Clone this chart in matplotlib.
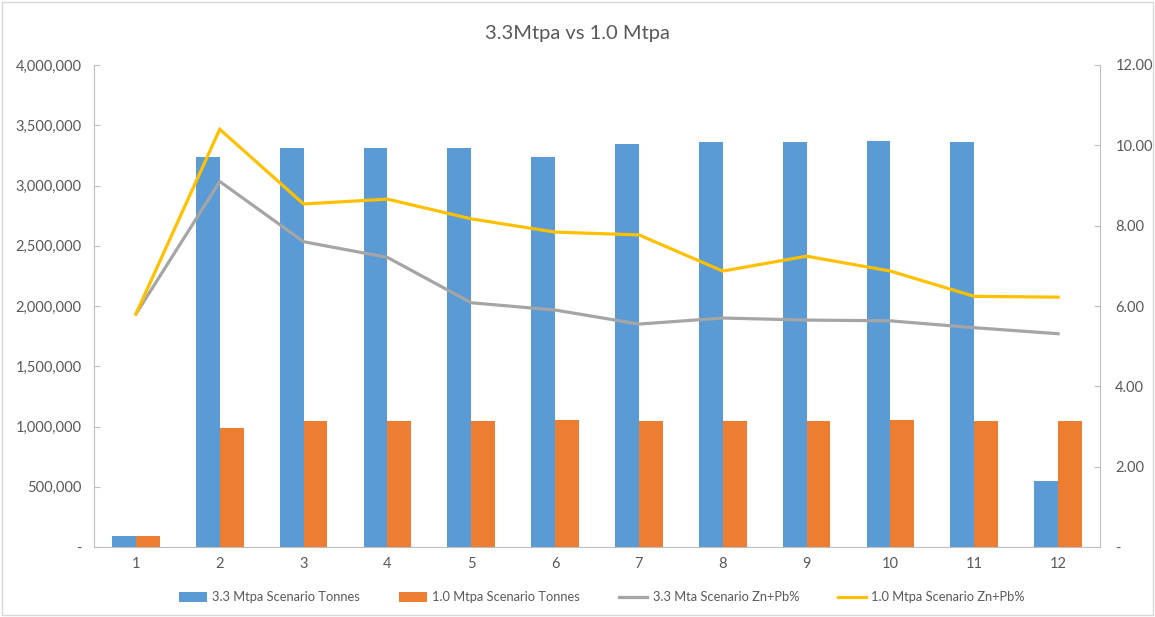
import matplotlib.pyplot as plt
import matplotlib.ticker as mticker
import numpy as np
from matplotlib.patches import Rectangle

plt.rcParams['font.family'] = ['Lato', 'DejaVu Sans']

periods = list(range(1, 13))
tonnes_33 = [95000, 3240000, 3310000, 3310000, 3310000, 3240000,
             3345000, 3360000, 3360000, 3370000, 3360000, 545000]
tonnes_10 = [95000, 987000, 1045000, 1045000, 1045000, 1052000,
             1045000, 1045000, 1045000, 1052000, 1045000, 1045000]
grade_33 = [5.80, 9.10, 7.60, 7.21, 6.08, 5.90, 5.55, 5.70, 5.65, 5.63, 5.46, 5.31]
grade_10 = [5.80, 10.40, 8.54, 8.66, 8.17, 7.84, 7.77, 6.87, 7.24, 6.87, 6.24, 6.22]

c_blue = '#5b9bd5'
c_orange = '#ed7d31'
c_grey = '#a5a5a5'
c_yellow = '#ffc000'
txt = '#595959'
axis_c = '#bfbfbf'

fig = plt.figure(figsize=(11.55, 6.17), dpi=100)
fig.patches.append(Rectangle((0.002, 0.003), 0.996, 0.994, transform=fig.transFigure,
                             fill=False, edgecolor='#d9d9d9', linewidth=1))
ax = fig.add_axes([94 / 1155, 70 / 617, 1006 / 1155, 482 / 617])
ax2 = ax.twinx()

x = np.array(periods)
w = 0.285
ax.bar(x - w / 2, tonnes_33, w, color=c_blue, label='3.3 Mtpa Scenario Tonnes', zorder=2)
ax.bar(x + w / 2, tonnes_10, w, color=c_orange, label='1.0 Mtpa Scenario Tonnes', zorder=2)
ax2.plot(x, grade_33, color=c_grey, lw=2.3, label='3.3 Mta Scenario Zn+Pb%', solid_joinstyle='miter')
ax2.plot(x, grade_10, color=c_yellow, lw=2.3, label='1.0 Mtpa Scenario Zn+Pb%', solid_joinstyle='miter')

ax.set_xlim(0.5, 12.5)
ax.set_ylim(0, 4000000)
ax2.set_ylim(0, 12)
ax.set_xticks(x)
ax.set_xticklabels([str(p) for p in periods])
ax.set_yticks(np.arange(0, 4000001, 500000))
ax2.set_yticks(np.arange(0, 12.1, 2))
ax.yaxis.set_major_formatter(mticker.FuncFormatter(lambda v, p: '-' if v == 0 else f'{v:,.0f}'))
ax2.yaxis.set_major_formatter(mticker.FuncFormatter(lambda v, p: '-' if v == 0 else f'{v:.2f}'))

for a in (ax, ax2):
    for s in a.spines.values():
        s.set_visible(False)
ax.spines['left'].set_visible(True)
ax.spines['left'].set_color(axis_c)
ax.spines['bottom'].set_visible(True)
ax.spines['bottom'].set_color(axis_c)
ax2.spines['right'].set_visible(True)
ax2.spines['right'].set_color(axis_c)

ax.tick_params(axis='x', length=0, pad=7, labelsize=10.5, labelcolor=txt)
ax.tick_params(axis='y', direction='in', length=4, color=axis_c, pad=9, labelsize=10.5, labelcolor=txt)
ax2.tick_params(axis='y', direction='in', length=4, color=axis_c, pad=11, labelsize=10.5, labelcolor=txt)

fig.text(0.5, 0.946, '3.3Mtpa vs 1.0 Mtpa', ha='center', va='center', fontsize=14.5, color=txt)

h1, l1 = ax.get_legend_handles_labels()
h2, l2 = ax2.get_legend_handles_labels()
fig.legend(h1 + h2, l1 + l2, loc='center', bbox_to_anchor=(0.521, 0.032), ncol=4, frameon=False,
           fontsize=9.3, labelcolor=txt, handlelength=2.2, handleheight=0.8,
           columnspacing=3.0, handletextpad=0.4)

fig.savefig('out.png', dpi=100)
